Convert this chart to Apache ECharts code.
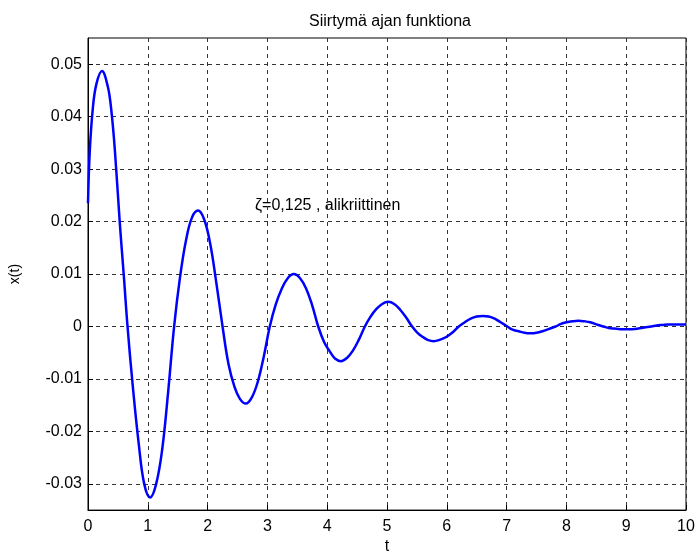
<!DOCTYPE html>
<html>
<head>
<meta charset="utf-8">
<script src="https://cdn.jsdelivr.net/npm/echarts@6/dist/echarts.min.js"></script>
<style>
  html, body { margin: 0; padding: 0; background: #fff; }
  #chart { width: 698px; height: 560px; }
</style>
</head>
<body>
<div id="chart"></div>
<script>
// values
const timeValues = [0, 0.03, 0.08, 0.14, 0.233, 0.33, 0.39, 0.45, 0.533, 0.6, 0.661, 0.75, 0.85, 0.94, 1.04, 1.14, 1.24, 1.34, 1.44, 1.54, 1.64, 1.74, 1.84, 1.94, 2.04, 2.14, 2.25, 2.35, 2.45, 2.54, 2.64, 2.74, 2.84, 2.94, 3.04, 3.14, 3.24, 3.34, 3.44, 3.54, 3.645, 3.75, 3.85, 3.95, 4.04, 4.13, 4.23, 4.33, 4.43, 4.53, 4.63, 4.72, 4.82, 4.92, 5.02, 5.12, 5.22, 5.32, 5.42, 5.51, 5.6, 5.69, 5.78, 5.89, 5.99, 6.1, 6.2, 6.3, 6.4, 6.5, 6.6, 6.7, 6.8, 6.9, 7.0, 7.1, 7.2, 7.3, 7.4, 7.5, 7.6, 7.7, 7.82, 7.91, 8.0, 8.1, 8.2, 8.3, 8.4, 8.5, 8.62, 8.71, 8.8, 8.9, 9.0, 9.1, 9.2, 9.3, 9.42, 9.51, 9.6, 9.7, 9.8, 9.9, 10]
const dispValues = [0.0235, 0.0335, 0.0415, 0.0462, 0.0487, 0.0458, 0.0412, 0.0335, 0.0195, 0.0095, 0, -0.0115, -0.0225, -0.0300, -0.0326, -0.0300, -0.0235, -0.0125, 0, 0.0095, 0.0165, 0.0208, 0.0221, 0.0205, 0.016, 0.0088, 0, -0.0072, -0.0115, -0.0138, -0.0147, -0.0135, -0.0105, -0.0057, 0, 0.0042, 0.0072, 0.0092, 0.0100, 0.0093, 0.0073, 0.0040, 0, -0.0030, -0.0047, -0.0061, -0.0066, -0.006, -0.0046, -0.0025, 0, 0.0018, 0.0033, 0.0043, 0.0047, 0.0043, 0.0032, 0.0017, 0, -0.0012, -0.002, -0.0026, -0.0028, -0.0025, -0.002, -0.0011, 0, 0.0008, 0.0015, 0.0019, 0.002, 0.0019, 0.0015, 0.0008, 0.0001, -0.0006, -0.0009, -0.0012, -0.0013, -0.0012, -0.0009, -0.0005, 0, 0.0005, 0.0008, 0.001, 0.0011, 0.001, 0.0008, 0.0004, 0, -0.0003, -0.0004, -0.0005, -0.0005, -0.0005, -0.0004, -0.0002, 0, 0.0002, 0.0003, 0.0004, 0.0004, 0.0004, 0.0004]
const xTicks = [0, 1, 2, 3, 4, 5, 6, 7, 8, 9, 10]
const yTicks = [-0.03, -0.02, -0.01, 0, 0.01, 0.02, 0.03, 0.04, 0.05]

const font = 'Liberation Sans, Arial, sans-serif'
const chart = echarts.init(document.getElementById('chart'))

chart.setOption({
  animation: false,
  title: {
    text: 'Siirtymä ajan funktiona',
    left: 385,
    top: 9,
    textAlign: 'center',
    textStyle: { fontFamily: font, fontSize: 16, fontWeight: 'normal', color: '#000' }
  },
  grid: {
    left: 86,
    right: 12,
    top: 38,
    bottom: 45,
    show: true,
    borderColor: '#000',
    borderWidth: 1
  },
  xAxis: {
    type: 'value',
    min: 0,
    max: 10,
    interval: 1,
    name: 't',
    nameLocation: 'middle',
    nameGap: 28,
    nameTextStyle: { fontFamily: font, fontSize: 16, color: '#000' },
    axisLine: { onZero: false, lineStyle: { color: '#000' } },
    axisTick: { inside: true, length: 5, lineStyle: { color: '#000' } },
    axisLabel: { margin: 8, fontFamily: font, fontSize: 16, color: '#000', customValues: xTicks },
    splitLine: { show: true, lineStyle: { color: '#333', type: [4, 4], width: 1 } }
  },
  yAxis: {
    type: 'value',
    min: -0.035,
    max: 0.055,
    name: 'x(t)',
    nameLocation: 'middle',
    nameGap: 66,
    nameRotate: 90,
    nameTextStyle: { fontFamily: font, fontSize: 14, color: '#000' },
    axisLine: { show: true, onZero: false, lineStyle: { color: '#000' } },
    axisTick: { show: true, inside: true, length: 5, lineStyle: { color: '#000' }, customValues: yTicks },
    axisLabel: {
      margin: 6,
      fontFamily: font,
      fontSize: 16,
      color: '#000',
      customValues: yTicks,
      formatter: function(v) {
        return String(Number(v.toFixed(2)))
      }
    },
    splitLine: { show: true, lineStyle: { color: '#333', type: [4, 4], width: 1 } }
  },
  graphic: [{
    type: 'text',
    left: 255,
    top: 198,
    style: { text: 'ζ=0,125 , alikriittinen', fontFamily: font, fontSize: 16, fill: '#000' }
  }],
  series: [{
    type: 'line',
    data: timeValues.map((t, i) => [t, dispValues[i]]),
    smooth: 0.4,
    showSymbol: false,
    lineStyle: { color: '#0000ff', width: 2.5 }
  }]
})
</script>
</body>
</html>
